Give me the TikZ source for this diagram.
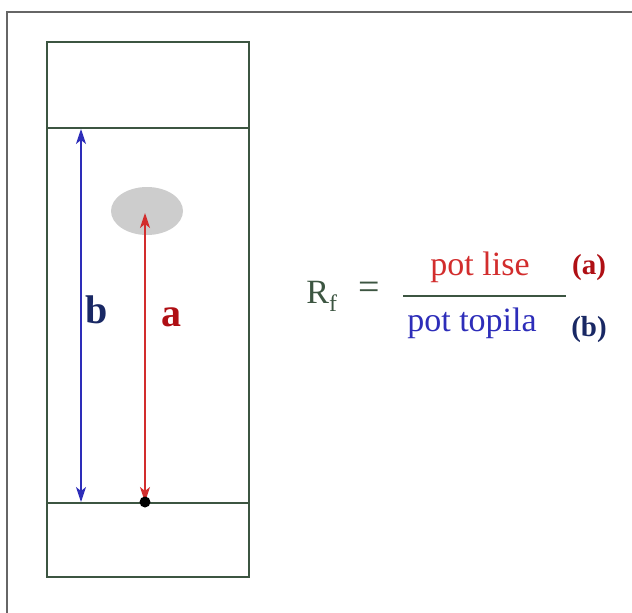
\documentclass[tikz,border=0pt]{standalone}
\usepackage{fontspec}
\setmainfont{Liberation Serif}
\usetikzlibrary{arrows.meta}
\definecolor{plategreen}{RGB}{60,85,65}
\definecolor{spotgrey}{RGB}{205,205,205}
\definecolor{lisered}{RGB}{210,45,45}
\definecolor{topilablue}{RGB}{45,45,185}
\definecolor{darkred}{RGB}{175,15,20}
\definecolor{navy}{RGB}{25,40,100}
\tikzset{
  plate/.style={draw=plategreen,line width=1.8pt},
  run/.style={{Stealth[length=15pt,width=10pt,inset=4pt]}-{Stealth[length=15pt,width=10pt,inset=4pt]},line width=1.4pt},
  lbl/.style={font=\fontsize{40}{40}\selectfont\bfseries},
  frm/.style={font=\fontsize{34}{34}\selectfont},
  tag/.style={font=\fontsize{29}{29}\selectfont\bfseries}
}
\begin{document}
\begin{tikzpicture}[x=1pt,y=-1pt]
\useasboundingbox (0,0) rectangle (632,613);
\draw[gray!80!black,line width=1.2pt] (7,613) -- (7,12) -- (632,12);

\draw[plate] (47,42) rectangle (249,577);
\coordinate (tl) at (47,128); \coordinate (tr) at (249,128);
\coordinate (bl) at (47,503); \coordinate (br) at (249,503);
\draw[plate] (tl) -- (tr);
\draw[plate] (bl) -- (br);

\fill[spotgrey] (147,211) ellipse [x radius=36, y radius=24];
\coordinate (btop) at (81,129); \coordinate (bbot) at (81,502);
\coordinate (atop) at (145,213); \coordinate (abot) at (145,502);
\draw[run,topilablue] (btop) -- (bbot);
\draw[run,lisered] (atop) -- (abot);
\fill (abot) circle (5.5);

\node[lbl,navy] (b) at (97,310) {b};
\node[lbl,darkred] (a) at (171,317) {a};

\node[frm,plategreen] (rf) at (322,296) {R\textsubscript{f}};
\node[frm,plategreen,font=\fontsize{38}{38}\selectfont] (eq) at (369,291) {=};
\node[frm,lisered] (num) at (480,267) {pot lise};
\node[frm,topilablue] (den) at (472,323) {pot topila};
\draw[plategreen,line width=1.5pt] (403,296) -- (566,296);
\node[tag,darkred] (na) at (589,268) {(a)};
\node[tag,navy] (nb) at (589,330) {(b)};
\end{tikzpicture}
\end{document}
